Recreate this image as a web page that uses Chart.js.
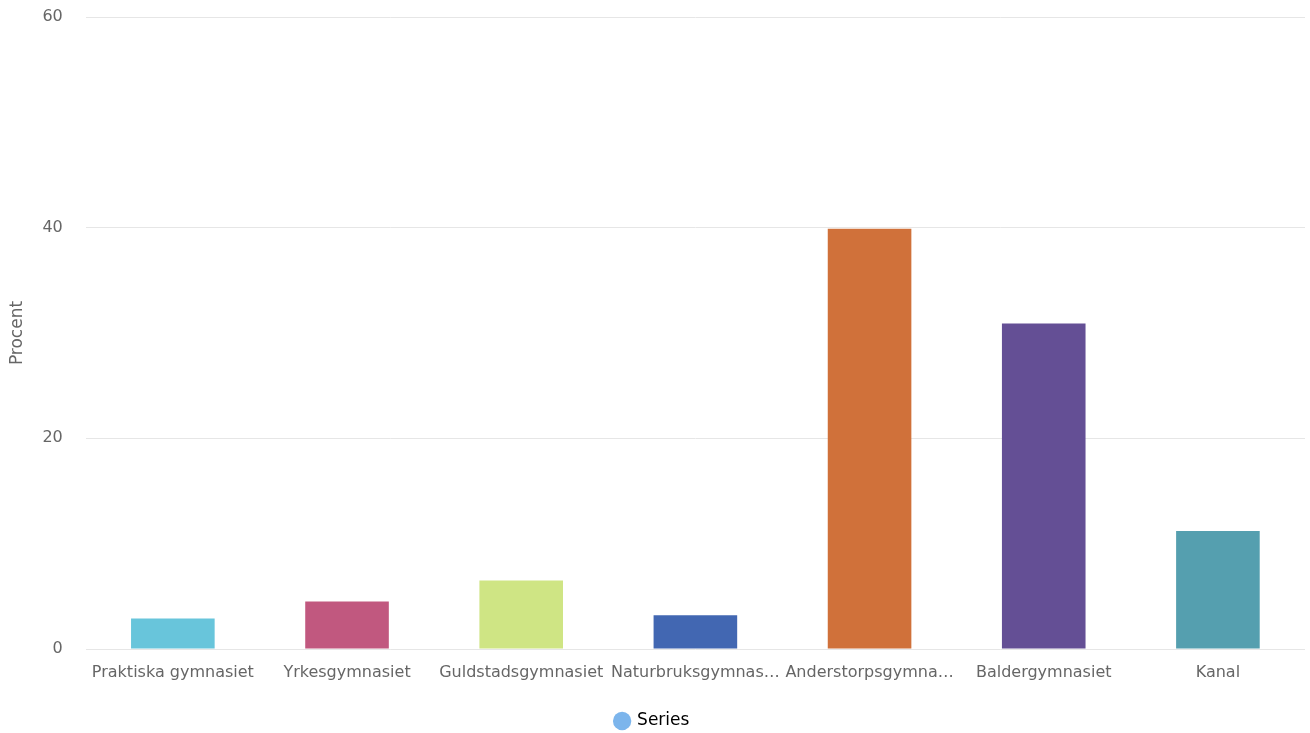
<!DOCTYPE html>
<html>
<head>
<meta charset="utf-8">
<script src="https://cdn.jsdelivr.net/npm/chart.js@4"></script>
<style>
  html, body { margin: 0; padding: 0; background: #fff; }
  #wrap { width: 1310px; height: 733px; position: relative; }
</style>
</head>
<body>
<div id="wrap"><canvas id="c" width="1310" height="733"></canvas></div>
<script>
const categories = ["Praktiska gymnasiet", "Yrkesgymnasiet", "Guldstadsgymnasiet", "Naturbruksgymnasiet", "Anderstorpsgymnasiet", "Baldergymnasiet", "Kanal"];
const seriesName = "Series";
const values = [2.9, 4.5, 6.5, 3.2, 39.9, 30.9, 11.2];
const barColors = ["#68C5DB", "#C1587F", "#CFE584", "#4267B2", "#D0713A", "#644F95", "#559FAF"];
const legendColor = "#7CB5EC";
const yTicks = [0, 20, 40, 60];
const yTitle = "Procent";

const FONT = "'DejaVu Sans', 'Open Sans', sans-serif";

new Chart(document.getElementById('c'), {
  type: 'bar',
  data: {
    labels: categories,
    datasets: [{
      label: seriesName,
      data: values,
      backgroundColor: barColors,
      borderWidth: 0,
      categoryPercentage: 1.0,
      barPercentage: 0.48
    }]
  },
  options: {
    responsive: false,
    animation: false,
    layout: { padding: { top: 17, right: 5, left: 0, bottom: -6.5 } },
    plugins: {
      tooltip: { enabled: false },
      legend: {
        position: 'bottom',
        labels: {
          usePointStyle: true,
          pointStyle: 'circle',
          boxWidth: 13,
          boxHeight: 13,
          padding: 3.5,
          color: '#333',
          font: { family: FONT, size: 17 },
          generateLabels: (chart) => [{
            text: seriesName,
            fillStyle: legendColor,
            strokeStyle: legendColor,
            lineWidth: 0,
            pointStyle: 'circle',
            hidden: false,
            datasetIndex: 0
          }]
        }
      }
    },
    scales: {
      x: {
        grid: { display: false, drawTicks: false },
        border: { display: false },
        afterFit: (scale) => { scale.height = 60; },
        ticks: {
          color: '#666',
          font: { family: FONT, size: 16 },
          maxRotation: 0,
          autoSkip: false,
          padding: 14,
          callback: function(v, i) {
            const s = categories[i];
            return (s.indexOf(' ') < 0 && s.length > 18) ? s.slice(0, 16) + '…' : s;
          }
        }
      },
      y: {
        min: 0,
        max: 60,
        afterBuildTicks: (axis) => { axis.ticks = yTicks.map(v => ({ value: v })); },
        grid: { color: '#e6e6e6', drawTicks: true, tickLength: 23, tickColor: 'rgba(0,0,0,0)', lineWidth: 1 },
        border: { display: false },
        ticks: {
          color: '#666',
          font: { family: FONT, size: 16 },
          padding: 0
        },
        title: {
          display: true,
          text: yTitle,
          color: '#666',
          font: { family: FONT, size: 17 },
          padding: { top: 7, bottom: 15 }
        }
      }
    }
  }
});
</script>
</body>
</html>
